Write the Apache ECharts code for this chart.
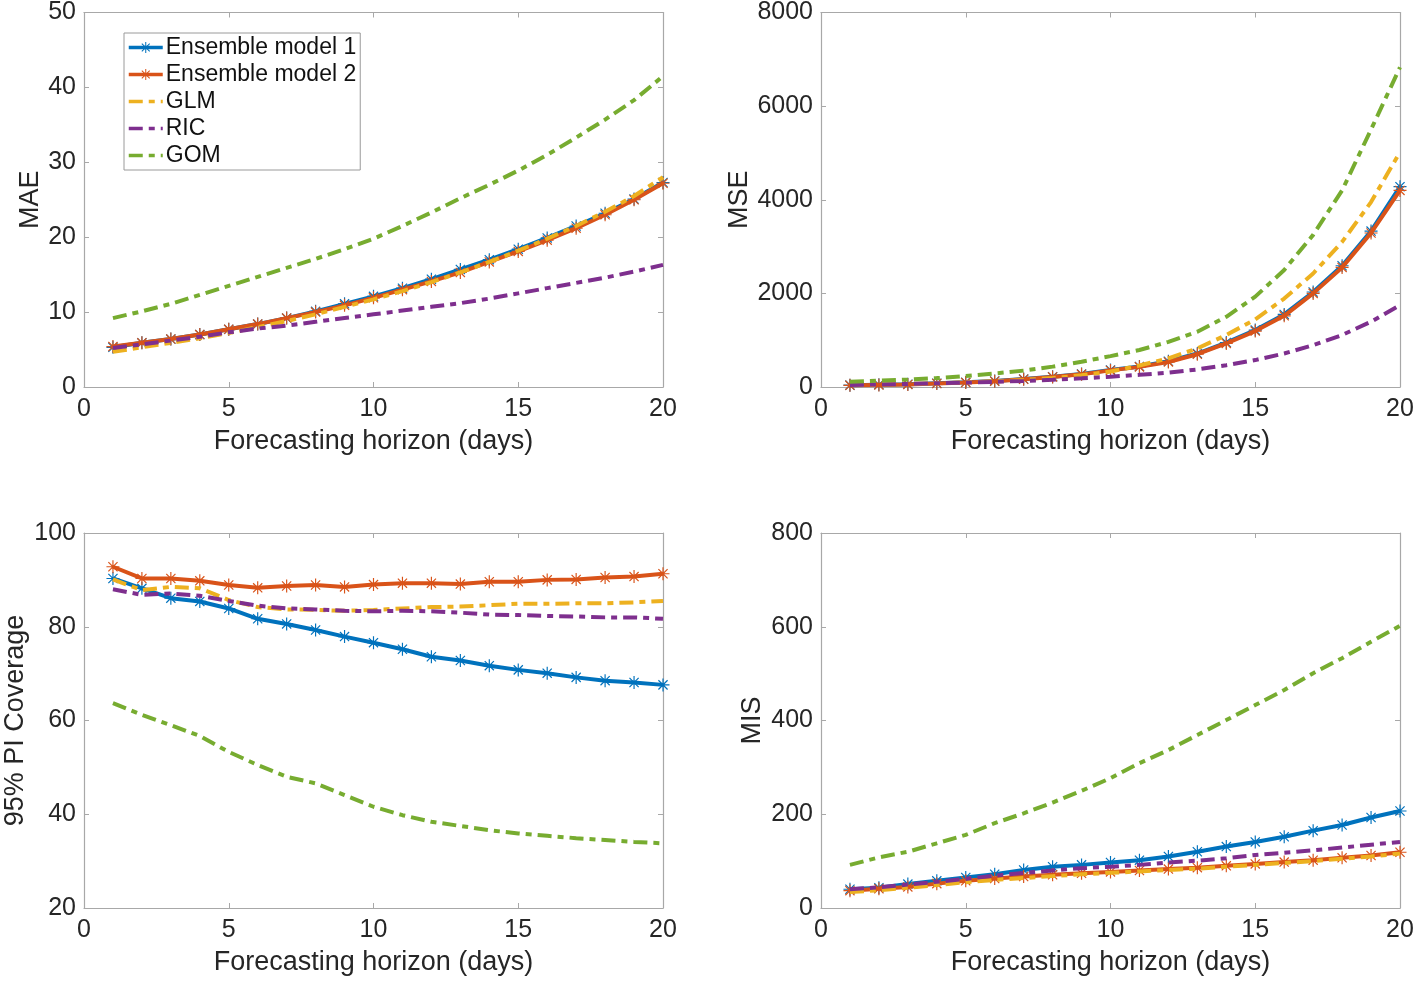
<!DOCTYPE html>
<html>
<head>
<meta charset="utf-8">
<script src="https://cdn.jsdelivr.net/npm/echarts@6/dist/echarts.min.js"></script>
<style>
    html, body { margin: 0; padding: 0; background: #fff; }
    #main { width: 1418px; height: 982px; }
</style>
</head>
<body>
<div id="main"></div>
<script>
// horizon (days)
const days = [1, 2, 3, 4, 5, 6, 7, 8, 9, 10, 11, 12, 13, 14, 15, 16, 17, 18, 19, 20];
const names = ['Ensemble model 1', 'Ensemble model 2', 'GLM', 'RIC', 'GOM'];

// MAE
const maeEns1 = [5.3, 5.9, 6.4, 7.0, 7.7, 8.4, 9.2, 10.1, 11.1, 12.1, 13.2, 14.4, 15.7, 17.0, 18.4, 19.9, 21.5, 23.2, 25.1, 27.3];
const maeEns2 = [5.4, 5.9, 6.4, 7.0, 7.7, 8.4, 9.2, 10.0, 10.9, 11.9, 13.0, 14.1, 15.3, 16.7, 18.1, 19.6, 21.2, 23.0, 25.0, 27.2];
const maeGLM = [4.7, 5.3, 5.9, 6.5, 7.2, 8.0, 8.8, 9.7, 10.7, 11.7, 12.8, 14.0, 15.3, 16.7, 18.2, 19.8, 21.5, 23.4, 25.5, 28.0];
const maeRIC = [5.2, 5.7, 6.2, 6.7, 7.3, 7.8, 8.2, 8.7, 9.2, 9.7, 10.2, 10.7, 11.2, 11.8, 12.5, 13.2, 13.9, 14.6, 15.4, 16.3];
const maeGOM = [9.2, 10.1, 11.1, 12.3, 13.5, 14.7, 15.9, 17.1, 18.4, 19.8, 21.5, 23.3, 25.2, 27.0, 28.9, 31.0, 33.3, 35.7, 38.3, 41.5];

// MSE
const mseEns1 = [40, 50, 60, 80, 100, 130, 170, 220, 280, 365, 440, 550, 715, 950, 1215, 1550, 2030, 2590, 3330, 4280];
const mseEns2 = [35, 45, 55, 75, 95, 125, 165, 215, 270, 355, 430, 535, 700, 930, 1195, 1520, 2000, 2555, 3290, 4200];
const mseGLM = [45, 55, 65, 80, 100, 120, 150, 190, 250, 330, 460, 612, 825, 1110, 1445, 1890, 2425, 3100, 3950, 5020];
const mseRIC = [45, 55, 65, 80, 95, 110, 130, 155, 185, 220, 260, 305, 375, 465, 575, 715, 895, 1110, 1395, 1750];
const mseGOM = [110, 135, 160, 190, 235, 290, 350, 435, 540, 660, 790, 965, 1180, 1500, 1930, 2500, 3250, 4200, 5500, 6830];

// 95% PI coverage
const covEns1 = [90.3, 88.2, 86.1, 85.4, 83.9, 81.7, 80.6, 79.3, 77.9, 76.6, 75.2, 73.6, 72.8, 71.7, 70.8, 70.1, 69.2, 68.5, 68.1, 67.6];
const covEns2 = [92.8, 90.3, 90.3, 89.8, 88.9, 88.3, 88.7, 88.9, 88.5, 89.0, 89.3, 89.3, 89.1, 89.6, 89.6, 90.0, 90.1, 90.5, 90.7, 91.3];
const covGLM = [90.1, 87.8, 88.5, 88.2, 85.7, 84.2, 83.7, 83.6, 83.4, 83.6, 83.9, 84.2, 84.3, 84.6, 84.9, 84.9, 85.0, 85.0, 85.2, 85.5];
const covRIC = [88.0, 86.8, 87.1, 86.6, 85.5, 84.5, 83.9, 83.7, 83.4, 83.3, 83.4, 83.3, 83.0, 82.6, 82.5, 82.3, 82.2, 82.0, 82.0, 81.7];
const covGOM = [63.7, 61.2, 59.0, 56.7, 53.3, 50.5, 48.0, 46.6, 44.1, 41.6, 39.8, 38.4, 37.5, 36.6, 35.9, 35.4, 34.9, 34.5, 34.1, 33.8];

// MIS
const misEns1 = [40, 43, 51, 58, 65, 72, 81, 88, 92, 97, 102, 110, 120, 131, 141, 152, 165, 177, 193, 207];
const misEns2 = [37, 41, 45, 52, 58, 63, 67, 71, 74, 77, 80, 83, 86, 90, 94, 98, 102, 107, 112, 119];
const misGLM = [34, 38, 43, 49, 55, 60, 64, 68, 72, 75, 78, 81, 84, 88, 92, 96, 100, 105, 110, 116];
const misRIC = [40, 44, 50, 56, 62, 69, 75, 80, 85, 88, 92, 97, 101, 106, 113, 118, 123, 129, 135, 141];
const misGOM = [92, 108, 120, 138, 156, 181, 202, 225, 250, 277, 309, 337, 369, 401, 433, 465, 501, 533, 568, 602];

const colors = ['#0072BD', '#D95319', '#EDB120', '#7E2F8E', '#77AC30'];
const font = 'Liberation Sans, Arial, Helvetica, sans-serif';
const axisGray = '#a8a8a8';
const textColor = '#262626';

// asterisk marker (+ and x)
const star = 'path://M-0.9,-10L0.9,-10L0.9,10L-0.9,10Z' +
    'M-10,-0.9L10,-0.9L10,0.9L-10,0.9Z' +
    'M-7.7,-6.4L-6.4,-7.7L7.7,6.4L6.4,7.7Z' +
    'M6.4,-7.7L7.7,-6.4L-6.4,7.7L-7.7,6.4Z';

const panels = [
    {left: 84, top: 12, yName: 'MAE', min: 0, max: 50, step: 10, gap: 40, data: [maeEns1, maeEns2, maeGLM, maeRIC, maeGOM]},
    {left: 821, top: 12, yName: 'MSE', min: 0, max: 8000, step: 2000, gap: 67, data: [mseEns1, mseEns2, mseGLM, mseRIC, mseGOM]},
    {left: 84, top: 533, yName: '95% PI Coverage', min: 20, max: 100, step: 20, gap: 55, data: [covEns1, covEns2, covGLM, covRIC, covGOM]},
    {left: 821, top: 533, yName: 'MIS', min: 0, max: 800, step: 200, gap: 55, data: [misEns1, misEns2, misGLM, misRIC, misGOM]}
];

const grids = [], xAxes = [], yAxes = [], series = [];

panels.forEach(function (p, i) {
    grids.push({left: p.left, top: p.top, width: 579, height: 375, containLabel: false});
    xAxes.push({
        type: 'value', gridIndex: i, min: 0, max: 20, interval: 5, position: 'bottom',
        name: 'Forecasting horizon (days)', nameLocation: 'middle', nameGap: 41,
        nameTextStyle: {fontSize: 27, color: textColor, fontFamily: font},
        axisLine: {show: true, lineStyle: {color: axisGray, width: 1.2}},
        axisTick: {show: true, inside: true, length: 5, lineStyle: {color: axisGray}},
        axisLabel: {fontSize: 25, color: textColor, fontFamily: font, margin: 10},
        splitLine: {show: false}
    });
    yAxes.push({
        type: 'value', gridIndex: i, min: p.min, max: p.max, interval: p.step, position: 'left',
        name: p.yName, nameLocation: 'middle', nameGap: p.gap,
        nameTextStyle: {fontSize: 27, color: textColor, fontFamily: font},
        axisLine: {show: true, lineStyle: {color: axisGray, width: 1.2}},
        axisTick: {show: true, inside: true, length: 5, lineStyle: {color: axisGray}},
        axisLabel: {fontSize: 25, color: textColor, fontFamily: font, margin: 8,
            formatter: function (v) { return String(v); }},
        splitLine: {show: false}
    });
});

// box edges on top / right with inner ticks
panels.forEach(function (p, i) {
    xAxes.push({
        type: 'value', gridIndex: i, min: 0, max: 20, interval: 5, position: 'top',
        axisLine: {show: true, onZero: false, lineStyle: {color: axisGray, width: 1.2}},
        axisTick: {show: true, inside: true, length: 5, lineStyle: {color: axisGray}},
        axisLabel: {show: false}, splitLine: {show: false}
    });
    yAxes.push({
        type: 'value', gridIndex: i, min: p.min, max: p.max, interval: p.step, position: 'right',
        axisLine: {show: true, onZero: false, lineStyle: {color: axisGray, width: 1.2}},
        axisTick: {show: true, inside: true, length: 5, lineStyle: {color: axisGray}},
        axisLabel: {show: false}, splitLine: {show: false}
    });
});

panels.forEach(function (p, i) {
    p.data.forEach(function (vals, k) {
        const solid = k < 2;
        series.push({
            name: names[k],
            type: 'line',
            xAxisIndex: i,
            yAxisIndex: i,
            data: days.map(function (d, j) { return [d, vals[j]]; }),
            symbol: solid ? star : 'none',
            symbolSize: 13,
            showSymbol: solid,
            itemStyle: {color: colors[k]},
            lineStyle: solid
                ? {color: colors[k], width: 4}
                : {color: colors[k], width: 4, type: [14, 6, 6, 6]},
            emphasis: {disabled: true},
            animation: false,
            z: 2 + k
        });
    });
});

const legendData = names.map(function (n, k) {
    return k < 2 ? {name: n} : {name: n, itemStyle: {opacity: 0}};
});

const chart = echarts.init(document.getElementById('main'));
chart.setOption({
    backgroundColor: '#fff',
    color: colors,
    grid: grids,
    xAxis: xAxes,
    yAxis: yAxes,
    legend: {
        data: legendData,
        orient: 'vertical',
        left: 124,
        top: 33,
        padding: [3, 4, 3, 3],
        itemWidth: 34,
        itemHeight: 14,
        itemGap: 4,
        lineStyle: {width: 3.5},
        backgroundColor: '#fff',
        borderColor: '#9a9a9a',
        borderWidth: 1,
        borderRadius: 0,
        textStyle: {fontSize: 23, color: '#111', fontFamily: font, padding: [0, 0, 0, -2]}
    },
    series: series
});
</script>
</body>
</html>
